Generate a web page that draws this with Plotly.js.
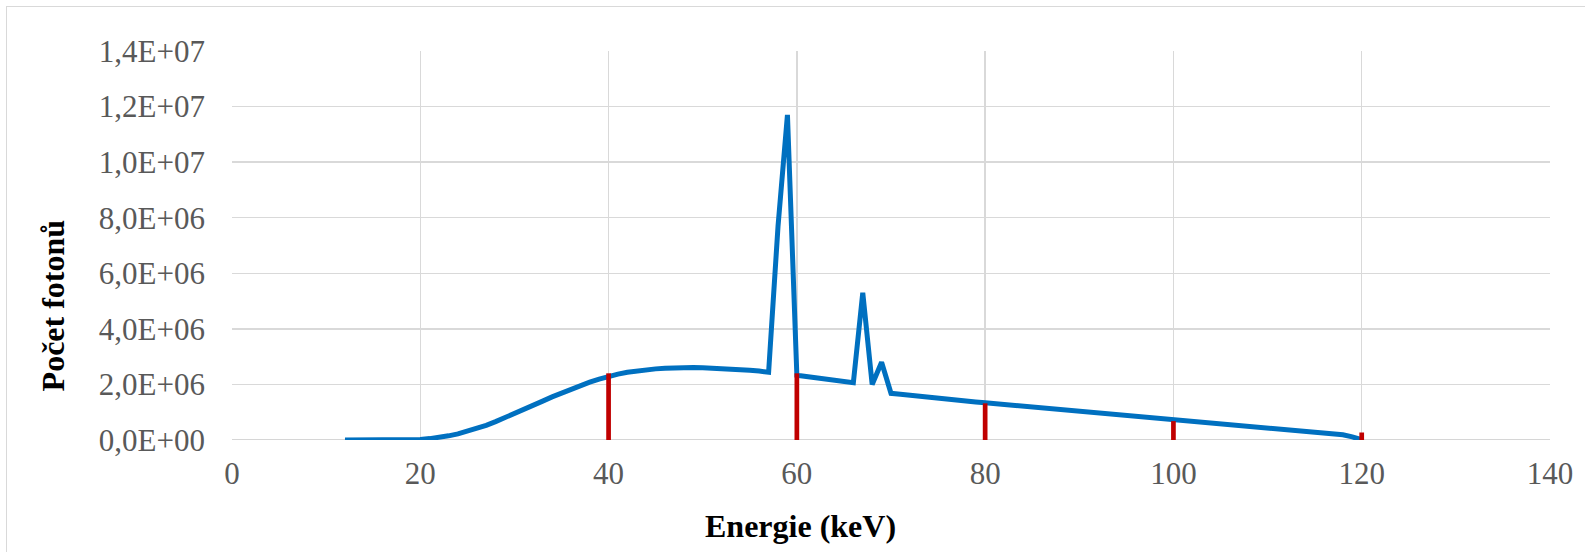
<!DOCTYPE html>
<html>
<head>
<meta charset="utf-8">
<script src="https://cdn.plot.ly/plotly-3.0.1.min.js"></script>
<style>
html,body{margin:0;padding:0;background:#fff;overflow:hidden;}
#frame{position:absolute;left:6px;top:6px;width:1700px;height:700px;border:1.5px solid #d9d9d9;box-sizing:border-box;}
#chart{position:absolute;left:0;top:0;width:1585px;height:552px;}
</style>
</head>
<body>
<div id="frame"></div>
<div id="chart"></div>
<script>
// Energy (keV)
const energy = [12,13,14,15,16,17,18,19,20,21,22,23,24,25,26,27,28,29,30,31,32,33,34,35,36,37,38,39,40,41,42,43,44,45,46,47,48,49,50,51,52,53,54,55,56,57,58,59,60,61,62,63,64,65,66,67,68,69,70,71,72,73,74,75,76,77,78,79,80,81,82,83,84,85,86,87,88,89,90,91,92,93,94,95,96,97,98,99,100,101,102,103,104,105,106,107,108,109,110,111,112,113,114,115,116,117,118,119,120];
// Photon counts (spectrum)
const photons = [0,0,0,0,0,0,0,5e3,2e4,5e4,9e4,1.5e5,2.2e5,3.1e5,4.1e5,5.3e5,6.6e5,8.0e5,9.5e5,1.10e6,1.25e6,1.40e6,1.55e6,1.69e6,1.83e6,1.96e6,2.08e6,2.19e6,2.29e6,2.37e6,2.44e6,2.49e6,2.53e6,2.56e6,2.58e6,2.60e6,2.61e6,2.61e6,2.60e6,2.59e6,2.58e6,2.56e6,2.54e6,2.51e6,2.48e6,2.44e6,7.7e6,1.17e7,2.33e6,2.28e6,2.24e6,2.19e6,2.15e6,2.10e6,2.06e6,5.3e6,2.0e6,2.8e6,1.68e6,1.65e6,1.61e6,1.58e6,1.54e6,1.51e6,1.47e6,1.44e6,1.41e6,1.37e6,1.34e6,1.31e6,1.28e6,1.25e6,1.22e6,1.19e6,1.16e6,1.13e6,1.10e6,1.07e6,1.04e6,1.01e6,9.8e5,9.5e5,9.2e5,8.9e5,8.6e5,8.3e5,8.0e5,7.7e5,7.4e5,7.1e5,6.8e5,6.5e5,6.2e5,5.9e5,5.6e5,5.3e5,5.0e5,4.7e5,4.4e5,4.1e5,3.8e5,3.5e5,3.2e5,2.9e5,2.6e5,2.3e5,1.9e5,1.1e5,1e4];
// Marked energies (red bars)
const markEnergy = [40,60,80,100,120];
const markValues = [2.4e6,2.4e6,1.32e6,6.8e5,2.7e5];
// Axis ticks
const xTicks = [0,20,40,60,80,100,120,140];
const yTicks = [0,2e6,4e6,6e6,8e6,1e7,1.2e7,1.4e7];
const yTickText = ['0,0E+00','2,0E+06','4,0E+06','6,0E+06','8,0E+06','1,0E+07','1,2E+07','1,4E+07'];
const xTitle = 'Energie (keV)';
const yTitle = 'Počet fotonů';

const serif = '"Liberation Serif", "Times New Roman", serif';

const traces = [
  {x:energy, y:photons, type:'scatter', mode:'lines', line:{color:'#0070c0', width:5, shape:'linear'}, hoverinfo:'skip'},
  {x:markEnergy, y:markValues, type:'bar', width:0.5, marker:{color:'#c00000', line:{width:0}}, xaxis:'x', yaxis:'y2', hoverinfo:'skip'}
];

const layout = {
  width:1585, height:552,
  font:{family:serif, size:31, color:'#595959'},
  paper_bgcolor:'rgba(0,0,0,0)', plot_bgcolor:'rgba(0,0,0,0)',
  margin:{l:231.5, r:35, t:50.5, b:111.5, pad:0},
  showlegend:false,
  xaxis:{range:[0,140], tickmode:'array', tickvals:xTicks, ticktext:xTicks.map(String),
         tickfont:{family:serif, size:31, color:'#595959'},
         showgrid:true, gridcolor:'#d9d9d9', gridwidth:1.3, zeroline:false,
         showline:false, ticks:'', ticklabelstandoff:12, fixedrange:true},
  yaxis:{range:[0,1.4e7], tickmode:'array', tickvals:yTicks, ticktext:yTickText,
         tickfont:{family:serif, size:31, color:'#595959'},
         showgrid:true, gridcolor:'#d9d9d9', gridwidth:1.3, zeroline:false,
         showline:false, ticks:'', ticklabelstandoff:26, fixedrange:true},
  yaxis2:{range:[0,1.4e7], overlaying:'y', visible:false, showgrid:false, fixedrange:true},
  shapes:[
    {type:'line', xref:'paper', yref:'y', x0:0, x1:1, y0:0, y1:0, line:{color:'#c8c8c8', width:1.5}, layer:'below'}
  ],
  annotations:[
    {text:'<b>'+xTitle+'</b>', xref:'paper', yref:'paper', x:(800-231.5)/(1550-231.5), y:-(527-440.5)/(440.5-50.5), xanchor:'center', yanchor:'middle', showarrow:false, font:{family:serif, size:32, color:'#000'}},
    {text:'<b>'+yTitle+'</b>', xref:'paper', yref:'paper', x:-(231.5-52)/(1550-231.5), y:(440.5-306)/(440.5-50.5), xanchor:'center', yanchor:'middle', textangle:-90, showarrow:false, font:{family:serif, size:32, color:'#000'}}
  ]
};

Plotly.newPlot('chart', traces, layout, {displayModeBar:false, staticPlot:true});
</script>
</body>
</html>
